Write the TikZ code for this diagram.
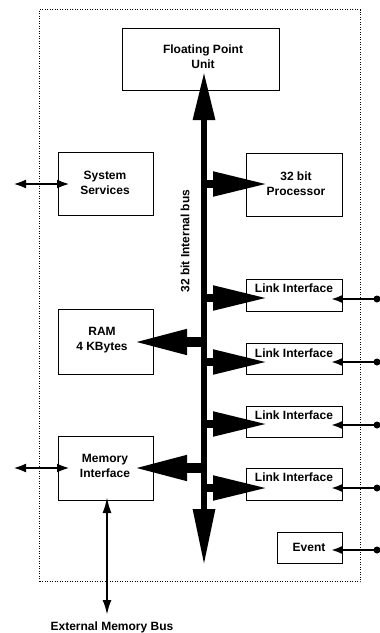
\documentclass[tikz,border=0pt]{standalone}
\usepackage{fontspec}
\setmainfont{Liberation Sans}
\usetikzlibrary{arrows.meta}
\begin{document}
\begin{tikzpicture}[x=1pt,y=-1pt,
  box/.style={draw, line width=1.3pt, inner sep=0pt, anchor=north west},
  lbl/.style={font=\fontsize{12}{15}\selectfont\bfseries, align=center, inner sep=0pt},
  busline/.style={line width=6pt},
  branch/.style={line width=8pt, -{Triangle[length=55pt,width=23pt]}},
  ramarrow/.style={line width=10pt, -{Triangle[length=55pt,width=23pt]}},
  io/.style={line width=2.2pt, -{Latex[length=11pt,width=8pt]}},
  iodouble/.style={line width=2.5pt, {Latex[length=13pt,width=9pt]}-{Latex[length=13pt,width=9pt]}},
  dot/.style={fill, circle, inner sep=0pt, minimum size=7pt}
]
\useasboundingbox (0,0) rectangle (380,633);
% chip outline
\node[draw, dash pattern=on 1pt off 1.5pt, line width=1pt, minimum width=321pt, minimum height=572pt, anchor=north west, inner sep=0pt] (chip) at (39,9) {};
% boxes
\node[box, minimum width=157pt, minimum height=62pt] (fpu) at (122,28) {};
\node[box, minimum width=95pt, minimum height=63pt] (ss) at (58,152) {};
\node[box, minimum width=96pt, minimum height=63pt] (proc) at (246,153) {};
\node[box, minimum width=96pt, minimum height=32pt] (li1) at (246,279) {};
\node[box, minimum width=96pt, minimum height=31pt] (li2) at (246,343) {};
\node[box, minimum width=96pt, minimum height=31pt] (li3) at (246,406) {};
\node[box, minimum width=96pt, minimum height=32pt] (li4) at (246,468) {};
\node[box, minimum width=95pt, minimum height=65pt] (ram) at (58,309) {};
\node[box, minimum width=95pt, minimum height=64pt] (mem) at (58,436) {};
\node[box, minimum width=65pt, minimum height=31pt] (ev) at (277,532) {};
% labels
\node[lbl] (tfpu) at (203,57) {Floating Point\\Unit};
\node[lbl] (tss) at (105,183) {System\\Services};
\node[lbl] (tproc) at (296,184) {32 bit\\Processor};
\node[lbl] (tli1) at (294,288) {Link Interface};
\node[lbl] (tli2) at (294,353) {Link Interface};
\node[lbl] (tli3) at (294,415) {Link Interface};
\node[lbl] (tli4) at (294,477) {Link Interface};
\node[lbl] (tram) at (102,340) {RAM\\4 KBytes};
\node[lbl] (tmem) at (105,466) {Memory\\Interface};
\node[lbl] (tev) at (309,547) {Event};
\node[lbl] (text) at (112,627) {External Memory Bus};
\node[lbl, rotate=90] (tbus) at (185,241) {32 bit Internal bus};
% bus
\coordinate (bustop) at (204,72);
\coordinate (busbot) at (204,565);
\draw[busline, {Triangle[length=48pt,width=21pt]}-{Triangle[length=56pt,width=21pt]}] (bustop) -- (busbot);
% branches from bus
\coordinate (bp) at (204,184);   \coordinate (tp) at (268,184);
\coordinate (b1) at (204,298);   \coordinate (t1) at (268,298);
\coordinate (b2) at (204,362);   \coordinate (t2) at (268,362);
\coordinate (b3) at (204,424);   \coordinate (t3) at (268,424);
\coordinate (b4) at (204,488);   \coordinate (t4) at (268,488);
\draw[branch] (bp) -- (tp);
\draw[branch] (b1) -- (t1);
\draw[branch] (b2) -- (t2);
\draw[branch] (b3) -- (t3);
\draw[branch] (b4) -- (t4);
\coordinate (br) at (202,342);   \coordinate (tr) at (132,342);
\coordinate (bm) at (202,468);   \coordinate (tm) at (132,468);
\draw[ramarrow] (br) -- (tr);
\draw[ramarrow] (bm) -- (tm);
% external links (right)
\coordinate (r1) at (380,299);  \coordinate (e1) at (331,299);
\coordinate (r2) at (380,362);  \coordinate (e2) at (331,362);
\coordinate (r3) at (380,425);  \coordinate (e3) at (331,425);
\coordinate (r4) at (380,488);  \coordinate (e4) at (331,488);
\coordinate (r5) at (380,550);  \coordinate (e5) at (331,550);
\foreach \i in {1,...,5}{
  \draw[io] (r\i) -- (e\i);
  \node[dot] (d\i) at ([xshift=-3pt]r\i) {};
}
% left double arrows
\coordinate (lss) at (13,184); \coordinate (iss) at (70,184);
\coordinate (lmem) at (13,468); \coordinate (imem) at (70,468);
\draw[iodouble] (lss) -- (iss);
\draw[iodouble] (lmem) -- (imem);
% external memory bus
\coordinate (mtop) at (107,497); \coordinate (mbot) at (107,615);
\draw[line width=2.2pt, {Latex[length=16pt,width=9pt]}-{Latex[length=15pt,width=9pt]}] (mtop) -- (mbot);
\end{tikzpicture}
\end{document}
